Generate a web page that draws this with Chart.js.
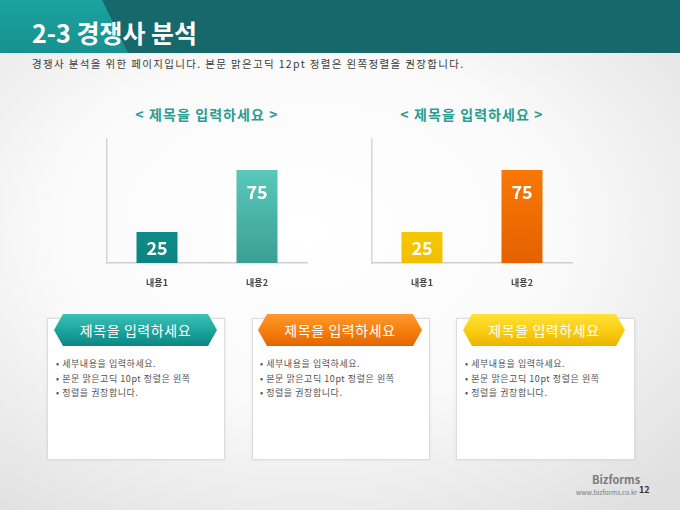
<!DOCTYPE html>
<html><head><meta charset="utf-8">
<script src="https://cdn.jsdelivr.net/npm/chart.js@4.4.1/dist/chart.umd.min.js"></script>
<style>
html,body{margin:0;padding:0;}
body{width:680px;height:510px;overflow:hidden;position:relative;font-family:"Noto Sans CJK KR","Noto Sans",sans-serif;
 background:radial-gradient(ellipse 75% 70% at 45% 45%, #ffffff 0%, #fafafa 50%, #e0e0e0 100%);}
.abs{position:absolute;}
#band{left:0;top:0;width:680px;height:53px;background:#17686a;}
#bandLight{left:0;top:0;width:130px;height:53px;background:linear-gradient(#1ba3a0,#17918f);clip-path:polygon(0 0,102px 0,128px 53px,0 53px);}
#title{left:32px;top:17px;color:#fff;font-weight:bold;font-size:25px;line-height:30px;white-space:nowrap;}
#subtitle{left:32px;top:57px;color:#3a3a3a;font-size:10.5px;letter-spacing:1.35px;line-height:14px;white-space:nowrap;}
.ctitle{top:104px;width:200px;text-align:center;color:#2a9d92;font-weight:600;font-size:14px;letter-spacing:1.1px;line-height:20px;white-space:nowrap;}
.chartbox{width:220px;height:170px;}
.box{top:318px;height:140px;background:#fff;border:1px solid #dcdcdc;box-shadow:0 0 3px rgba(0,0,0,0.08);}
.banner{top:314px;height:32px;color:#fff;font-size:14px;letter-spacing:0.6px;line-height:32px;text-align:center;
 clip-path:polygon(9px 0,calc(100% - 9px) 0,100% 50%,calc(100% - 9px) 100%,9px 100%,0 50%);}
.bul{color:#505050;font-size:9px;letter-spacing:0.55px;line-height:14.5px;white-space:nowrap;}
#biz{left:592px;top:472px;color:#7a7a7a;font-weight:bold;font-size:11px;line-height:14px;}
#url{left:576px;top:487px;color:#7a7a7a;font-size:6.6px;line-height:10px;white-space:nowrap;}
#pg{left:639px;top:484px;color:#333;font-weight:bold;font-size:9px;line-height:12px;}
</style>
</head><body>
<div id="band" class="abs"></div>
<div id="bandLight" class="abs"></div>
<div id="title" class="abs">2-3 경쟁사 분석</div>
<div id="subtitle" class="abs">경쟁사 분석을 위한 페이지입니다. 본문 맑은고딕 12pt 정렬은 왼쪽정렬을 권장합니다.</div>

<div class="abs ctitle" style="left:107px;">&lt; 제목을 입력하세요 &gt;</div>
<div class="abs ctitle" style="left:372px;">&lt; 제목을 입력하세요 &gt;</div>
<div class="abs chartbox" style="left:97px;top:129px;"><canvas id="c1"></canvas></div>
<div class="abs chartbox" style="left:362px;top:129px;"><canvas id="c2"></canvas></div>

<div class="abs box" style="left:47px;width:176px;"></div>
<div class="abs box" style="left:252px;width:176px;"></div>
<div class="abs box" style="left:456px;width:177px;"></div>
<div class="abs banner" style="left:54px;width:163px;background:linear-gradient(#3cc1b6,#1ba39c 55%,#0d8682);">제목을 입력하세요</div>
<div class="abs banner" style="left:258px;width:164px;background:linear-gradient(#ff9a2e,#f57d0c 55%,#e26600);">제목을 입력하세요</div>
<div class="abs banner" style="left:463px;width:162px;background:linear-gradient(#ffe238,#f9cc10 55%,#eab400);">제목을 입력하세요</div>
<div class="abs bul" style="left:56px;top:357px;">• 세부내용을 입력하세요.<br>• 본문 맑은고딕 10pt 정렬은 왼쪽<br>• 정렬을 권장합니다.</div>
<div class="abs bul" style="left:260px;top:357px;">• 세부내용을 입력하세요.<br>• 본문 맑은고딕 10pt 정렬은 왼쪽<br>• 정렬을 권장합니다.</div>
<div class="abs bul" style="left:465px;top:357px;">• 세부내용을 입력하세요.<br>• 본문 맑은고딕 10pt 정렬은 왼쪽<br>• 정렬을 권장합니다.</div>

<div id="biz" class="abs">Bizforms</div>
<div id="url" class="abs">www.bizforms.co.kr</div>
<div id="pg" class="abs">12</div>

<script>
const categories = ['내용1', '내용2'];
const chart1Values = [25, 75];
const chart2Values = [25, 75];
const yMin = 0;
const yMax = 100;

const chart1Colors = [['#17a09b', '#0c8481'], ['#64d6c8', '#3a9f95']];
const chart2Colors = [['#ffe200', '#f2bf00'], ['#ff7f05', '#e46200']];

function gradFill(pairs) {
  return function (ctx) {
    const chart = ctx.chart;
    const area = chart.chartArea;
    const pair = pairs[ctx.dataIndex] || pairs[0];
    if (!area) return pair[0];
    const el = ctx.element;
    const top = el && isFinite(el.y) ? el.y : area.top;
    const bottom = area.bottom;
    const g = chart.ctx.createLinearGradient(0, top, 0, bottom);
    g.addColorStop(0, pair[0]);
    g.addColorStop(1, pair[1]);
    return g;
  };
}

const valueLabels = {
  id: 'valueLabels',
  afterDatasetsDraw(chart) {
    const ctx = chart.ctx;
    const meta = chart.getDatasetMeta(0);
    const data = chart.data.datasets[0].data;
    ctx.save();
    ctx.fillStyle = '#ffffff';
    ctx.font = 'bold 18px "Noto Sans CJK KR", "Noto Sans", sans-serif';
    ctx.textAlign = 'center';
    ctx.textBaseline = 'middle';
    meta.data.forEach((el, i) => {
      const y = Math.min(el.y + 21, (el.y + el.base) / 2);
      ctx.fillText(String(data[i]), el.x, y + 1);
    });
    ctx.restore();
  }
};

function makeChart(id, values, colors) {
  return new Chart(document.getElementById(id), {
    type: 'bar',
    data: {
      labels: categories,
      datasets: [{
        data: values,
        backgroundColor: gradFill(colors),
        borderWidth: 0,
        barPercentage: 0.41,
        categoryPercentage: 1.0
      }]
    },
    options: {
      responsive: true,
      maintainAspectRatio: false,
      animation: false,
      layout: { padding: { left: 10, right: 10, top: 10, bottom: 0 } },
      plugins: { legend: { display: false }, tooltip: { enabled: false } },
      scales: {
        x: {
          grid: { display: false, drawTicks: false },
          border: { display: true, color: '#cfcfcf', width: 1.5 },
          ticks: { color: '#444', font: { family: '"Noto Sans CJK KR"', size: 9, weight: 'bold' }, padding: 14 },
          afterFit: (s) => { s.height = 36; }
        },
        y: {
          min: yMin, max: yMax,
          grid: { display: false, drawTicks: false },
          border: { display: true, color: '#d6d6d6', width: 1.5 },
          ticks: { display: false },
          afterFit: (s) => { s.width = 0; }
        }
      }
    },
    plugins: [valueLabels]
  });
}

makeChart('c1', chart1Values, chart1Colors);
makeChart('c2', chart2Values, chart2Colors);
</script>
</body></html>
